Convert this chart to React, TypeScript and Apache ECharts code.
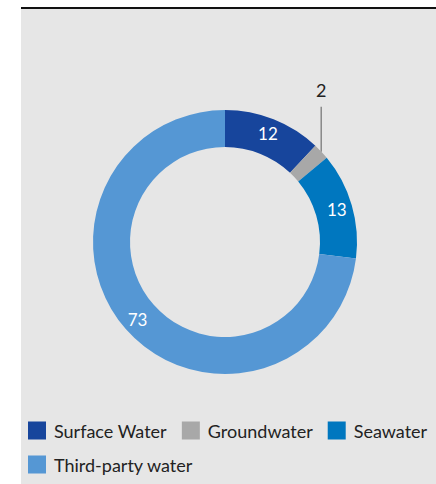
import React, { useEffect, useRef } from "react";
import * as echarts from "echarts";

const categories = ["Surface Water", "Groundwater", "Seawater", "Third-party water"];
const values = [12, 2, 13, 73];
const colors = ["#17459c", "#a8a8a8", "#0077bf", "#5597d4"];

export default function App() {
  const ref = useRef<HTMLDivElement>(null);
  useEffect(() => {
    document.body.style.margin = "0";
    const chart = echarts.init(ref.current!, undefined, { renderer: "svg" });
    const font = "Lato, 'Open Sans', sans-serif";
    chart.setOption({
      animation: false,
      legend: {
        left: 28,
        top: 421,
        right: 0,
        padding: 0,
        itemWidth: 18,
        itemHeight: 18,
        itemGap: 15,
        icon: "rect",
        data: categories,
        textStyle: { fontFamily: font, fontSize: 18, color: "#222", padding: [0, 0, 0, 3], lineHeight: 19 },
      },
      series: [
        {
          type: "pie",
          center: [225, 242],
          radius: [95, 132],
          startAngle: 90,
          clockwise: true,
          avoidLabelOverlap: false,
          label: {
            show: true,
            position: "inside",
            formatter: "{c}",
            color: "#fff",
            fontFamily: font,
            fontSize: 17,
          },
          labelLayout: (params: any) => {
            if (params.dataIndex !== 1) return {};
            const p = params.labelLinePoints;
            if (!p) return {};
            const x0 = p[0][0];
            const y0 = p[0][1];
            return {
              x: x0,
              y: y0 - 62,
              align: "center",
              verticalAlign: "middle",
              labelLinePoints: [
                [x0, y0],
                [x0, y0 - 45],
                [x0, y0 - 45],
              ],
            };
          },
          data: categories.map((name, i) => ({
            name,
            value: values[i],
            itemStyle: { color: colors[i] },
            ...(i === 1
              ? {
                  label: { position: "outside", color: "#222", fontSize: 18 },
                  labelLine: { show: true, length: 10, length2: 0, lineStyle: { color: "#888", width: 1.5 } },
                }
              : {}),
          })),
        },
      ],
    });
    return () => chart.dispose();
  }, []);
  return (
    <div style={{ position: "absolute", left: 0, top: 0, width: 436, height: 484, background: "#fff", overflow: "hidden" }}>
      <div
        style={{
          position: "absolute",
          left: 21,
          top: 7,
          width: 415,
          height: 477,
          background: "#e6e6e6",
          borderTop: "2px solid #111",
          boxSizing: "border-box",
        }}
      />
      <div ref={ref} style={{ position: "absolute", left: 0, top: 0, width: 436, height: 484 }} />
    </div>
  );
}
